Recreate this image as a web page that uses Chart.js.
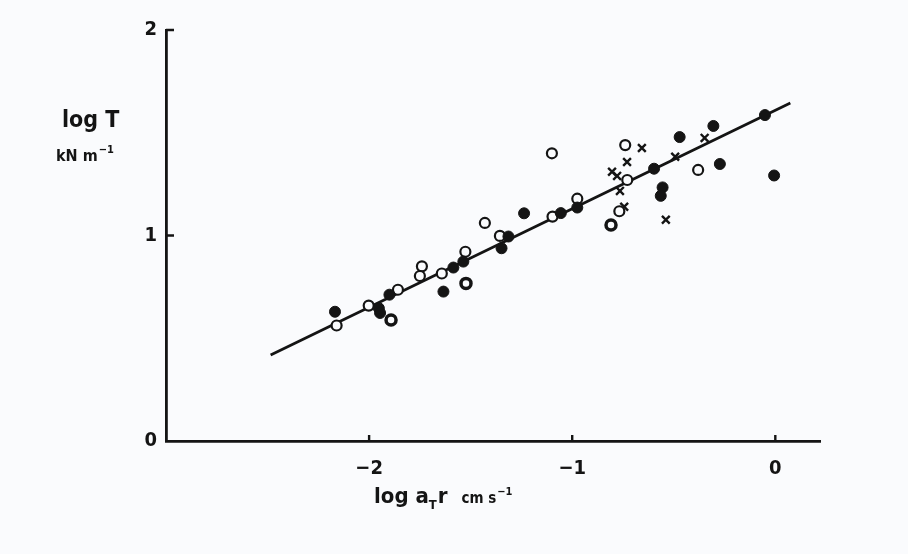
<!DOCTYPE html>
<html>
<head>
<meta charset="utf-8">
<title>log T vs log aT r</title>
<script src="https://cdn.jsdelivr.net/npm/chart.js@4.4.0/dist/chart.umd.min.js"></script>
<style>
  html, body { margin: 0; padding: 0; background: #fafbfd; }
  #wrap { width: 908px; height: 554px; }
</style>
</head>
<body>
<div id="wrap"><canvas id="myChart" width="908" height="554"></canvas></div>
<script>
// Filled circles (log aT r, log T)
const filledX = [-2.168, -1.952, -1.946, -1.900, -1.634, -1.585, -1.536, -1.348, -1.314, -1.237, -1.056, -0.975, -0.597, -0.555, -0.564, -0.471, -0.305, -0.273, -0.051, -0.006];
const filledY = [0.629, 0.646, 0.623, 0.712, 0.727, 0.844, 0.873, 0.938, 0.995, 1.108, 1.109, 1.136, 1.325, 1.234, 1.193, 1.479, 1.533, 1.348, 1.586, 1.292];

// Open circles
const openX = [-2.160, -2.002, -1.858, -1.740, -1.750, -1.642, -1.526, -1.430, -1.356, -1.097, -0.975, -1.100, -0.768, -0.739, -0.729, -0.380];
const openY = [0.562, 0.659, 0.736, 0.850, 0.803, 0.815, 0.921, 1.061, 0.998, 1.092, 1.179, 1.400, 1.118, 1.440, 1.270, 1.319];

// Open circles with a heavy rim
const ringX = [-1.892, -1.523, -0.809];
const ringY = [0.589, 0.767, 1.051];

// Crosses
const crossX = [-0.657, -0.730, -0.804, -0.779, -0.765, -0.744, -0.539, -0.493, -0.348];
const crossY = [1.426, 1.358, 1.310, 1.290, 1.217, 1.140, 1.077, 1.383, 1.475];

// Fitted line, end points
const lineX = [-2.485, 0.074];
const lineY = [0.418, 1.645];

// Axis ticks
const xTicks = [-2, -1, 0];
const yTicks = [0, 1, 2];

const ink = '#141414';
const paper = '#fafbfd';
const fontFam = "'Liberation Sans Narrow', 'DejaVu Sans Condensed', 'Liberation Sans', sans-serif";

function pares(xs, ys) { return xs.map((v, i) => ({ x: v, y: ys[i] })); }

// Short inward tick marks on both axes
const tickStubs = {
  id: 'tickStubs',
  afterDraw(chart) {
    const { ctx, scales: { x, y } } = chart;
    ctx.save();
    ctx.strokeStyle = ink;
    ctx.lineWidth = 2.4;
    ctx.beginPath();
    yTicks.slice(1).forEach(v => {
      const py = y.getPixelForValue(v);
      ctx.moveTo(x.left, py);
      ctx.lineTo(x.left + 8, py);
    });
    xTicks.forEach(v => {
      const px = x.getPixelForValue(v);
      ctx.moveTo(px, y.bottom);
      ctx.lineTo(px, y.bottom - 6);
    });
    ctx.stroke();
    ctx.restore();
  }
};

// Axis titles with sub/superscripts
const titols = {
  id: 'titols',
  afterDraw(chart) {
    const ctx = chart.ctx;
    ctx.save();
    ctx.fillStyle = ink;
    ctx.textBaseline = 'alphabetic';

    // y title
    ctx.font = 'bold 23px ' + fontFam;
    ctx.textAlign = 'left';
    ctx.fillText('log T', 62, 127);
    ctx.font = 'bold 16px ' + fontFam;
    ctx.fillText('kN m', 56, 161);
    let w = ctx.measureText('kN m').width;
    ctx.font = 'bold 11px ' + fontFam;
    ctx.fillText('−1', 56 + w + 1, 153);

    // x title
    let px = 374;
    const base = 503;
    ctx.font = 'bold 22px ' + fontFam;
    ctx.fillText('log a', px, base);
    px += ctx.measureText('log a').width;
    ctx.font = 'bold 13px ' + fontFam;
    ctx.fillText('T', px, base + 6);
    px += ctx.measureText('T').width + 1;
    ctx.font = 'bold 22px ' + fontFam;
    ctx.fillText('r', px, base);
    px += ctx.measureText('r').width + 14;
    ctx.font = 'bold 15px ' + fontFam;
    ctx.fillText('cm s', px, base);
    px += ctx.measureText('cm s').width + 1;
    ctx.font = 'bold 11px ' + fontFam;
    ctx.fillText('−1', px, base - 8);
    ctx.restore();
  }
};

const config = {
  type: 'scatter',
  data: {
    datasets: [
      {
        label: 'filled',
        data: pares(filledX, filledY),
        pointStyle: 'circle',
        pointRadius: 5.5,
        backgroundColor: ink,
        borderColor: ink,
        borderWidth: 1,
        order: 1
      },
      {
        label: 'open',
        data: pares(openX, openY),
        pointStyle: 'circle',
        pointRadius: 5,
        backgroundColor: paper,
        borderColor: ink,
        borderWidth: 2.2,
        order: 1
      },
      {
        label: 'ring',
        data: pares(ringX, ringY),
        pointStyle: 'circle',
        pointRadius: 5,
        backgroundColor: paper,
        borderColor: ink,
        borderWidth: 3.5,
        order: 1
      },
      {
        label: 'cross',
        data: pares(crossX, crossY),
        pointStyle: 'crossRot',
        pointRadius: 5.5,
        borderColor: ink,
        borderWidth: 2.4,
        order: 1
      },
      {
        type: 'line',
        label: 'fit',
        data: pares(lineX, lineY),
        borderColor: ink,
        borderWidth: 2.8,
        pointRadius: 0,
        fill: false,
        order: 5
      }
    ]
  },
  options: {
    responsive: false,
    animation: false,
    devicePixelRatio: 1,
    layout: { padding: { left: 136, top: 30, right: 88, bottom: 73 } },
    plugins: { legend: { display: false }, tooltip: { enabled: false } },
    scales: {
      x: {
        type: 'linear',
        min: -3,
        max: 0.22,
        afterBuildTicks: s => { s.ticks = xTicks.map(v => ({ value: v })); },
        afterFit: s => { s.height = 40; },
        grid: { display: false },
        border: { display: true, color: ink, width: 2.8 },
        ticks: {
          color: ink,
          padding: 8,
          font: { family: fontFam, size: 20, weight: 'bold' },
          callback: v => v < 0 ? '−' + Math.abs(v) : '' + v
        }
      },
      y: {
        type: 'linear',
        min: 0,
        max: 2,
        afterBuildTicks: s => { s.ticks = yTicks.map(v => ({ value: v })); },
        afterFit: s => { s.width = 30; },
        grid: { display: false },
        border: { display: true, color: ink, width: 2.8 },
        ticks: {
          color: ink,
          padding: 1,
          font: { family: fontFam, size: 20, weight: 'bold' }
        }
      }
    }
  },
  plugins: [tickStubs, titols]
};

const myChart = new Chart(document.getElementById('myChart'), config);
</script>
</body>
</html>
